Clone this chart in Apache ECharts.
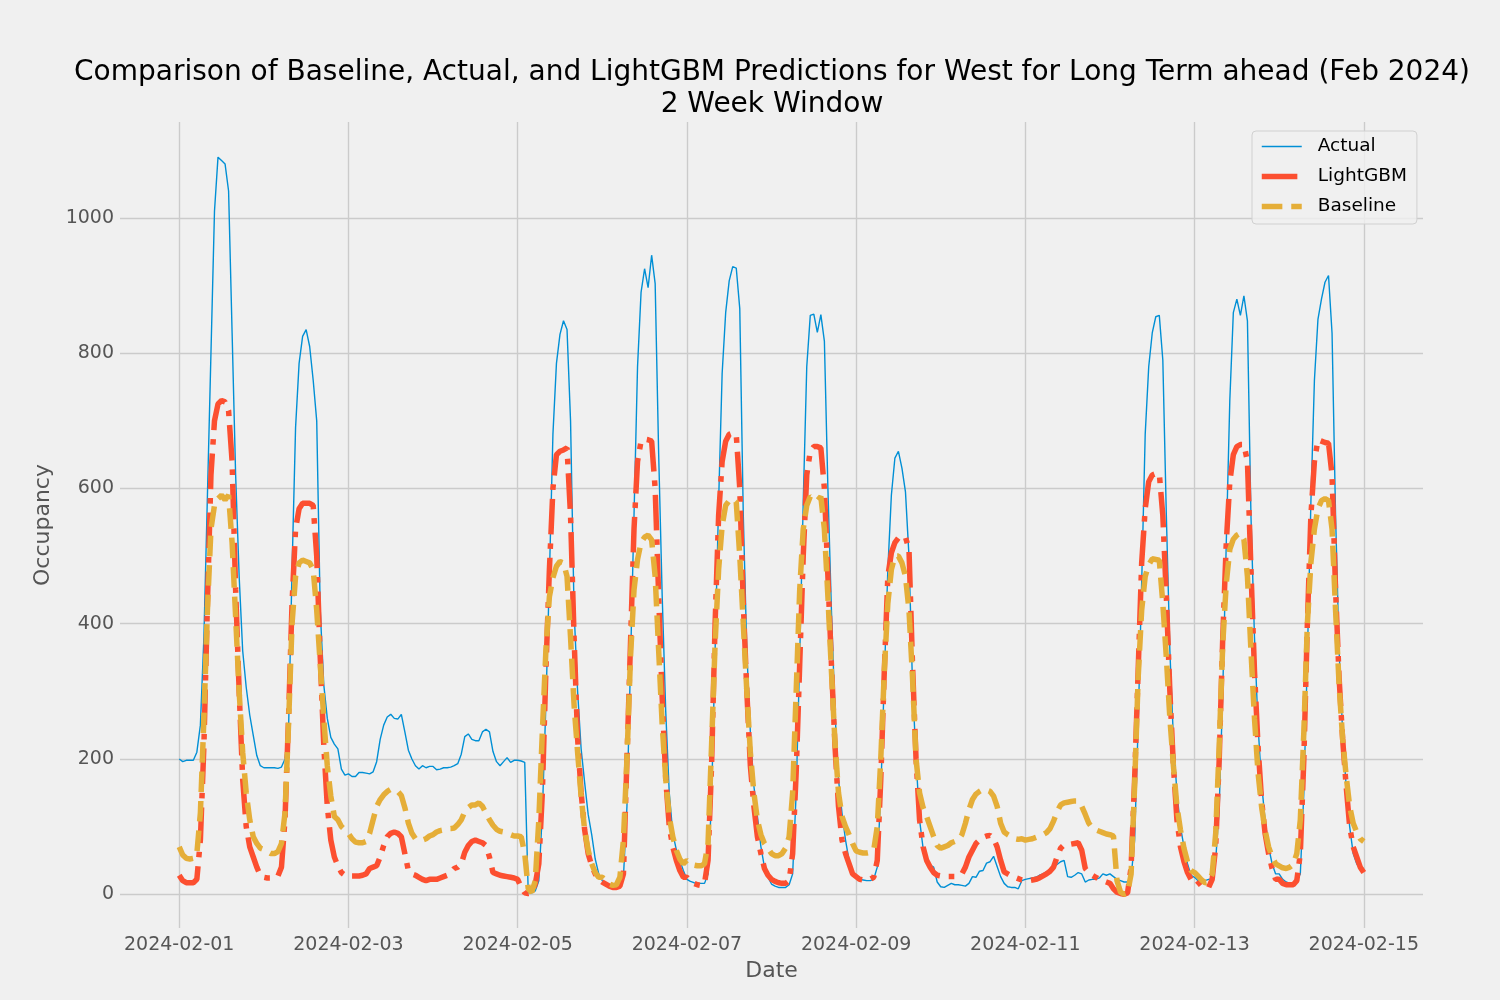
<!DOCTYPE html>
<html lang="en">
<head>
    <meta charset="UTF-8">
    <title>West occupancy - Feb 2024</title>
    <style>
        body{ margin:0; background:#f0f0f0; }
        #chart{ width:1500px; height:1000px; }
    </style>
</head>
<body>
    <div id="chart"></div>
    <script src="https://cdn.jsdelivr.net/npm/echarts@6/dist/echarts.min.js"></script>
    <script>
        // hourly values, 2024-02-01 00:00 .. 2024-02-15 00:00 (one row per day)
        var actual = [
            200,196,198,198,198,210,250,380,590,800,1010,1090,1085,1080,1040,830,620,470,360,306,265,235,205,190,
            187,187,187,187,186,188,200,240,480,690,785,825,835,810,760,700,420,310,260,232,222,215,185,176,
            178,174,174,180,180,179,178,181,196,229,250,262,266,260,259,266,240,213,200,190,185,190,187,189,
            189,184,185,187,187,188,190,193,207,233,237,229,227,227,240,244,240,211,196,190,196,202,195,198,
            198,197,195,2,2,5,20,120,280,470,680,785,828,848,835,700,420,300,215,165,118,88,52,30,
            20,14,10,10,12,15,25,130,340,560,780,890,925,897,945,903,650,440,270,150,90,66,50,35,
            22,19,17,16,16,16,30,140,360,580,770,860,907,928,926,866,560,360,240,160,115,70,40,25,
            15,12,10,10,10,14,30,150,350,580,780,856,858,831,857,818,600,420,270,170,120,80,50,32,
            26,22,21,20,20,22,40,150,320,480,590,645,655,630,595,500,310,200,110,68,50,43,40,18,
            11,10,13,16,14,14,13,12,16,26,25,34,35,46,48,56,41,26,16,11,10,10,8,20,
            22,23,24,25,28,30,33,36,40,44,48,50,26,25,28,32,30,18,21,22,22,24,30,28,
            30,26,22,20,18,18,25,80,250,460,680,780,830,854,856,790,560,360,230,150,100,70,45,28,
            25,20,19,20,22,23,50,130,300,520,730,860,880,856,885,848,560,380,250,165,110,70,45,30,
            30,22,18,16,16,20,30,150,350,580,760,850,880,905,915,830,560,360,240,160,100,60,45,38,
            38
        ];
        var lightgbm = [
            28,20,17,17,17,22,80,220,430,620,700,725,730,728,715,640,450,300,170,100,70,55,40,28,
            25,24,24,24,27,40,110,260,430,540,570,578,578,578,575,500,350,220,130,80,55,42,32,28,
            28,27,27,27,28,30,38,40,42,55,72,85,90,92,90,85,60,35,30,28,25,22,20,22,
            22,22,24,26,28,32,38,40,45,62,72,78,80,78,76,72,55,32,30,28,27,26,25,24,
            22,10,2,1,2,15,45,150,330,480,600,650,655,657,660,560,380,230,150,95,60,42,30,22,
            18,15,12,10,10,12,30,200,370,540,640,670,673,672,670,600,440,290,170,100,70,50,35,25,
            25,19,16,14,13,16,50,190,400,560,640,670,680,682,680,600,430,300,190,130,85,60,38,28,
            22,19,17,16,16,20,60,180,340,500,620,655,662,662,660,600,470,340,220,130,80,60,45,30,
            26,22,21,21,22,25,50,170,330,470,505,520,527,530,528,510,340,200,110,70,50,40,32,28,
            27,26,26,26,26,27,30,40,55,65,75,80,84,86,87,82,70,50,33,30,27,25,23,21,
            20,20,21,22,24,27,30,34,40,55,68,73,73,74,75,76,65,38,32,28,25,22,20,18,
            16,8,3,1,0,2,40,170,330,490,570,610,620,622,622,560,440,300,190,110,70,48,32,22,
            25,18,12,9,10,22,70,200,380,520,610,650,662,665,665,640,480,330,220,140,90,60,38,22,
            22,16,14,14,14,20,60,200,400,560,640,672,670,668,667,620,450,320,230,160,100,70,55,40,
            32
        ];
        var baseline = [
            70,58,53,52,53,60,120,260,420,540,575,585,590,583,590,520,410,300,210,150,110,85,75,68,
            66,63,60,60,63,75,120,250,400,470,490,494,492,490,480,420,340,260,190,145,115,110,100,95,
            90,82,77,76,76,78,90,110,130,140,147,152,155,154,152,146,128,105,90,82,80,80,82,86,
            88,92,94,95,97,97,98,103,110,122,128,132,132,135,130,120,110,102,96,93,92,90,88,86,
            86,85,60,8,3,20,110,240,360,440,468,485,492,490,470,380,280,210,145,95,65,45,32,25,
            25,20,15,13,14,25,80,200,350,450,495,520,528,531,524,470,360,250,170,115,85,65,52,45,
            50,46,43,42,42,45,75,220,370,480,545,575,582,585,580,500,400,300,210,150,110,88,75,68,
            60,57,57,60,68,85,150,300,450,540,575,588,585,582,588,540,440,330,225,150,115,100,88,75,
            64,62,61,61,62,65,100,200,330,430,480,500,500,490,470,420,320,200,150,128,115,100,85,72,
            68,70,72,76,78,80,88,105,125,140,148,152,155,154,152,145,130,105,92,88,85,82,81,82,
            80,81,82,84,86,88,91,97,108,122,132,135,136,137,138,138,130,118,105,98,95,93,91,89,
            88,86,20,3,0,2,30,160,320,420,470,487,496,495,494,430,350,260,190,130,95,68,48,35,
            32,27,21,17,18,30,90,220,370,460,510,525,531,534,525,470,360,260,180,130,95,70,55,45,
            42,39,38,40,44,60,110,240,400,490,540,570,582,585,582,540,420,310,230,175,130,105,92,82,
            78
        ];
        var xTickLabels = ['2024-02-01','2024-02-03','2024-02-05','2024-02-07','2024-02-09','2024-02-11','2024-02-13','2024-02-15'];
        var yTicks = [0, 200, 400, 600, 800, 1000];

        // x is hours since 2024-02-01 00:00
        var xTicks = xTickLabels.map(function(l, i){ return i * 48; });
        function pairs(arr){
            return arr.map(function(v, i){ return [i, v]; });
        }

        var FONT = 'DejaVu Sans';
        var redDash = [35.6, 8.9, 5.6, 8.9];   // '-.' at lw 4
        var yellowDash = [20.6, 8.9];          // '--' at lw 4

        var myChart = echarts.init(document.getElementById('chart'));
        var option = {
            animation: false,
            backgroundColor: '#f0f0f0',
            textStyle: { fontFamily: FONT },
            title: {
                text: 'Comparison of Baseline, Actual, and LightGBM Predictions for West for Long Term ahead (Feb 2024)\n2 Week Window',
                left: 772,
                top: 57,
                padding: 0,
                textAlign: 'center',
                textStyle: { fontFamily: FONT, fontSize: 28, fontWeight: 'normal', color: '#000', lineHeight: 32 }
            },
            legend: {
                orient: 'vertical',
                left: 1252,
                top: 131,
                padding: [6, 10, 8, 7],
                itemWidth: 40,
                itemHeight: 14,
                itemGap: 11,
                backgroundColor: 'rgba(240,240,240,0.8)',
                borderColor: '#d0d0d0',
                borderWidth: 1,
                borderRadius: 4,
                itemStyle: { opacity: 0 },
                textStyle: { fontFamily: FONT, fontSize: 18.5, lineHeight: 18, color: '#000', padding: [0, 0, 0, 11] },
                data: [
                    { name: 'Actual', lineStyle: { width: 1.4, color: '#008fd5' } },
                    { name: 'LightGBM', lineStyle: { width: 5.5, color: '#fc4f30', type: redDash } },
                    { name: 'Baseline', lineStyle: { width: 5.5, color: '#e5ae38', type: yellowDash } }
                ]
            },
            grid: { left: 120, right: 77, top: 122, bottom: 72 },
            xAxis: {
                type: 'value',
                min: -16.8,
                max: 352.8,
                name: 'Date',
                nameLocation: 'middle',
                nameGap: 30,
                nameTextStyle: { fontFamily: FONT, fontSize: 22, color: '#555' },
                axisLine: { show: false },
                axisTick: { show: false, customValues: xTicks },
                axisLabel: {
                    customValues: xTicks,
                    margin: 8,
                    fontSize: 19,
                    color: '#555',
                    formatter: function(v){ return xTickLabels[Math.round(v / 48)]; }
                },
                splitLine: { show: true, lineStyle: { color: '#cbcbcb', width: 1.4 } }
            },
            yAxis: {
                type: 'value',
                min: -50,
                max: 1142,
                name: 'Occupancy',
                nameLocation: 'middle',
                nameGap: 60,
                nameTextStyle: { fontFamily: FONT, fontSize: 22, color: '#555' },
                axisLine: { show: false },
                axisTick: { show: false, customValues: yTicks },
                axisLabel: {
                    customValues: yTicks,
                    margin: 6,
                    fontSize: 19,
                    color: '#555',
                    formatter: function(v){ return String(v); }
                },
                splitLine: { show: true, lineStyle: { color: '#cbcbcb', width: 1.4 } }
            },
            series: [
                {
                    name: 'Actual',
                    type: 'line',
                    data: pairs(actual),
                    showSymbol: false,
                    symbol: 'none',
                    color: '#008fd5',
                    lineStyle: { width: 1.4, color: '#008fd5' }
                },
                {
                    name: 'LightGBM',
                    type: 'line',
                    data: pairs(lightgbm),
                    showSymbol: false,
                    symbol: 'none',
                    color: '#fc4f30',
                    lineStyle: { width: 5.5, color: '#fc4f30', type: redDash }
                },
                {
                    name: 'Baseline',
                    type: 'line',
                    data: pairs(baseline),
                    showSymbol: false,
                    symbol: 'none',
                    color: '#e5ae38',
                    lineStyle: { width: 5.5, color: '#e5ae38', type: yellowDash }
                }
            ]
        };
        myChart.setOption(option);
    </script>
</body>
</html>
